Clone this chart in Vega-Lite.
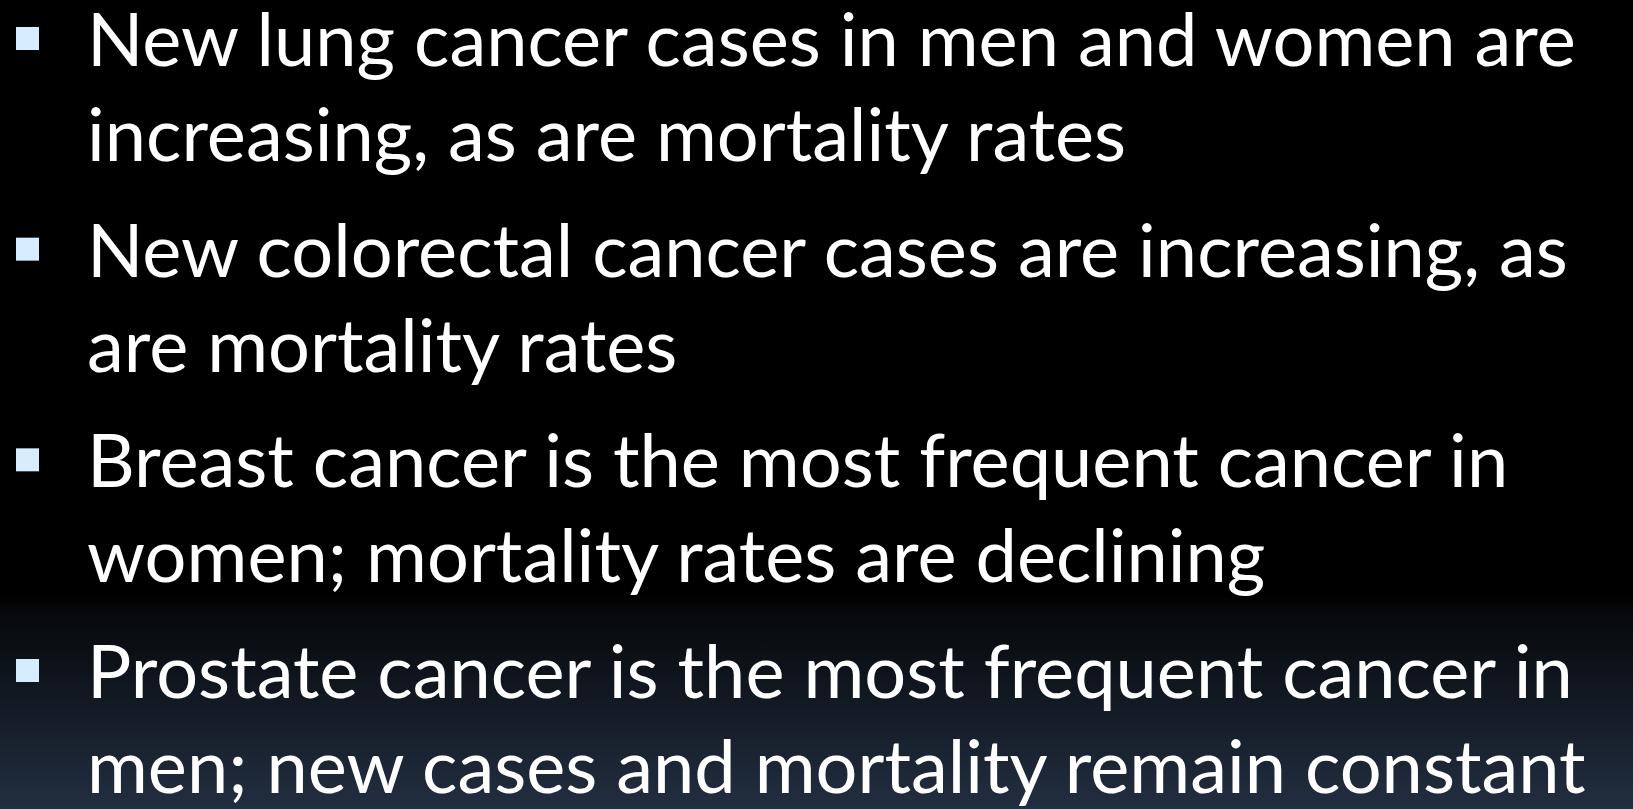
{
  "$schema": "https://vega.github.io/schema/vega-lite/v6.json",
  "width": 1633,
  "height": 809,
  "padding": 0,
  "autosize": {"type": "fit", "contains": "padding"},
  "background": "#000000",
  "config": {
    "view": {
      "stroke": null,
      "fill": {
        "gradient": "linear",
        "x1": 0, "y1": 0, "x2": 0, "y2": 1,
        "stops": [
          {"offset": 0, "color": "#000000"},
          {"offset": 0.735, "color": "#000000"},
          {"offset": 0.76, "color": "#07090c"},
          {"offset": 1, "color": "#222e41"}
        ]
      }
    }
  },
  "data": {
    "values": [
      {"item": 1, "lines": ["New lung cancer cases in men and women are", "increasing, as are mortality rates"]},
      {"item": 2, "lines": ["New colorectal cancer cases are increasing, as", "are mortality rates"]},
      {"item": 3, "lines": ["Breast cancer is the most frequent cancer in", "women; mortality rates are declining"]},
      {"item": 4, "lines": ["Prostate cancer is the most frequent cancer in", "men; new cases and mortality remain constant"]}
    ]
  },
  "encoding": {
    "y": {
      "field": "item",
      "type": "ordinal",
      "scale": {"type": "point", "range": [66, 698], "padding": 0},
      "axis": null
    }
  },
  "layer": [
    {
      "mark": {"type": "point", "shape": "square", "filled": true, "size": 529, "color": "#d6ecff", "opacity": 1},
      "encoding": {
        "x": {"value": 27.5},
        "yOffset": {"value": -27.5}
      }
    },
    {
      "mark": {
        "type": "text",
        "align": "left",
        "baseline": "alphabetic",
        "font": "Lato",
        "fontSize": 74,
        "lineHeight": 95,
        "color": "#ffffff"
      },
      "encoding": {
        "x": {"value": 87},
        "text": {"field": "lines"}
      }
    }
  ]
}
